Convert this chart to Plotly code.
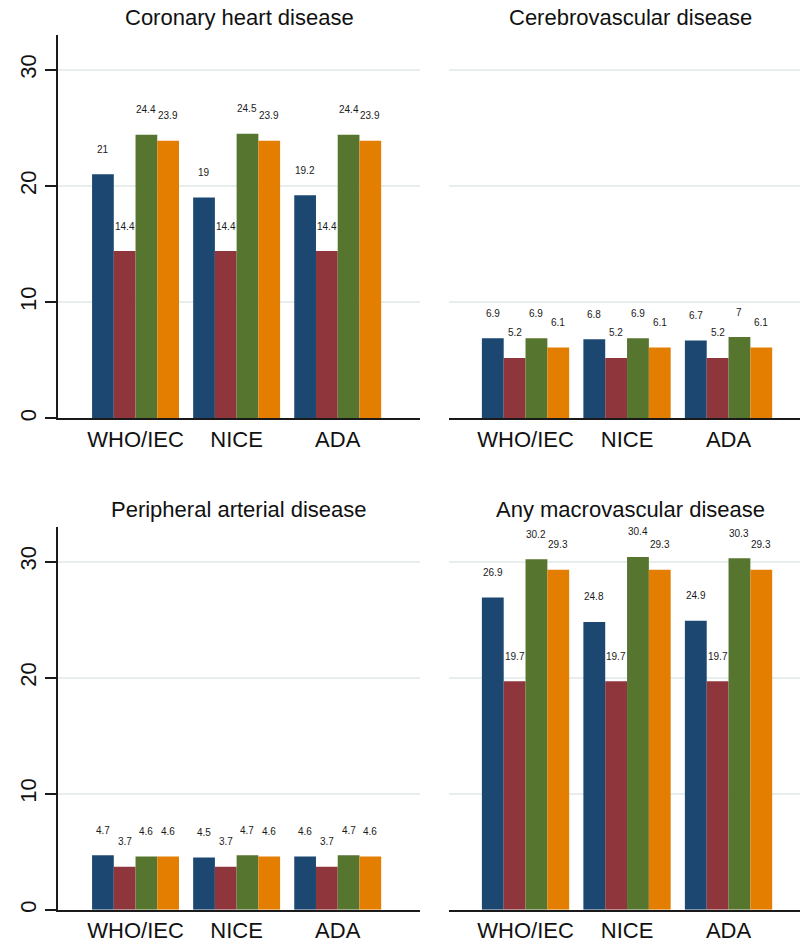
import plotly.graph_objects as go
from plotly.subplots import make_subplots

# Diagnostic criteria on the x axis
criteria = ["WHO/IEC", "NICE", "ADA"]

# Panel titles
panel_titles = [
    "Coronary heart disease",
    "Cerebrovascular disease",
    "Peripheral arterial disease",
    "Any macrovascular disease",
]

# Prevalence (%) for the four groups, one list per criterion order
chd_g1 = [21, 19, 19.2]
chd_g2 = [14.4, 14.4, 14.4]
chd_g3 = [24.4, 24.5, 24.4]
chd_g4 = [23.9, 23.9, 23.9]

cvd_g1 = [6.9, 6.8, 6.7]
cvd_g2 = [5.2, 5.2, 5.2]
cvd_g3 = [6.9, 6.9, 7]
cvd_g4 = [6.1, 6.1, 6.1]

pad_g1 = [4.7, 4.5, 4.6]
pad_g2 = [3.7, 3.7, 3.7]
pad_g3 = [4.6, 4.7, 4.7]
pad_g4 = [4.6, 4.6, 4.6]

any_g1 = [26.9, 24.8, 24.9]
any_g2 = [19.7, 19.7, 19.7]
any_g3 = [30.2, 30.4, 30.3]
any_g4 = [29.3, 29.3, 29.3]

y_ticks = [0, 10, 20, 30]

panels = [
    [chd_g1, chd_g2, chd_g3, chd_g4],
    [cvd_g1, cvd_g2, cvd_g3, cvd_g4],
    [pad_g1, pad_g2, pad_g3, pad_g4],
    [any_g1, any_g2, any_g3, any_g4],
]

colors = ["#1b4770", "#8f353c", "#56752f", "#e37e00"]
FONT = "Liberation Sans, Arial, Helvetica, sans-serif"
BARGAP = 0.14
W, H = 800, 947

fig = make_subplots(rows=2, cols=2)

x_idx = list(range(len(criteria)))
n_series = 4
bar_w = (1 - BARGAP) / n_series

annotations = []
for p, series in enumerate(panels):
    row, col = p // 2 + 1, p % 2 + 1
    for i, vals in enumerate(series):
        fig.add_trace(
            go.Bar(
                x=x_idx,
                y=vals,
                marker=dict(color=colors[i], line=dict(width=0)),
                showlegend=False,
                offsetgroup=str(i),
            ),
            row=row,
            col=col,
        )
        xref = "x" if p == 0 else f"x{p + 1}"
        yref = "y" if p == 0 else f"y{p + 1}"
        for k, v in enumerate(vals):
            annotations.append(
                dict(
                    x=k - (1 - BARGAP) / 2 + bar_w * (i + 0.5),
                    y=v,
                    xref=xref,
                    yref=yref,
                    text=f"{v:g}",
                    showarrow=False,
                    yanchor="middle",
                    xanchor="center",
                    yshift=25,
                    font=dict(size=10, color="#1a1a1a", family=FONT),
                )
            )

# panel geometry in pixels: (left, right, top, bottom)
left_px = (58, 420)
right_px = (449, 800)
top_px = (35, 419.7)
bot_px = (528.5, 912.7)
geo = [
    (left_px, top_px, (-0.767, 2.814)),
    (right_px, top_px, (-0.754, 2.704)),
    (left_px, bot_px, (-0.767, 2.814)),
    (right_px, bot_px, (-0.754, 2.704)),
]

layout_axes = {}
for p, ((x0, x1), (t, b), xr) in enumerate(geo):
    sfx = "" if p == 0 else str(p + 1)
    is_left = p % 2 == 0
    layout_axes[f"xaxis{sfx}"] = dict(
        domain=[x0 / W, x1 / W],
        range=list(xr),
        tickmode="array",
        tickvals=x_idx,
        ticktext=criteria,
        ticks="",
        showgrid=False,
        zeroline=False,
        showline=True,
        linecolor="#1a1a1a",
        linewidth=2,
        tickfont=dict(size=22, color="#111111", family=FONT),
        fixedrange=True,
    )
    layout_axes[f"yaxis{sfx}"] = dict(
        domain=[(H - b) / H, (H - t) / H],
        range=[0, 33],
        tickmode="array",
        tickvals=y_ticks,
        showgrid=True,
        gridcolor="#e6eeee",
        gridwidth=2,
        zeroline=False,
        showline=is_left,
        linecolor="#1a1a1a",
        linewidth=2,
        ticks="outside" if is_left else "",
        ticklen=11,
        tickwidth=2,
        tickcolor="#1a1a1a",
        showticklabels=is_left,
        tickangle=-90,
        ticklabelstandoff=0,
        tickfont=dict(size=22, color="#111111", family=FONT),
        fixedrange=True,
    )

title_pos = [(239, 18), (630, 18), (239, 511), (630, 511)]
for title, (cx, cy) in zip(panel_titles, title_pos):
    annotations.append(
        dict(
            x=cx / W,
            y=(H - cy) / H,
            xref="paper",
            yref="paper",
            text=title,
            showarrow=False,
            xanchor="center",
            yanchor="middle",
            font=dict(size=22, color="#111111", family=FONT),
        )
    )

fig.update_layout(
    width=W,
    height=H,
    margin=dict(l=0, r=0, t=0, b=0),
    paper_bgcolor="white",
    plot_bgcolor="white",
    barmode="group",
    bargap=BARGAP,
    bargroupgap=0,
    annotations=annotations,
    font=dict(family=FONT),
    **layout_axes,
)

fig.write_html("out.html")
